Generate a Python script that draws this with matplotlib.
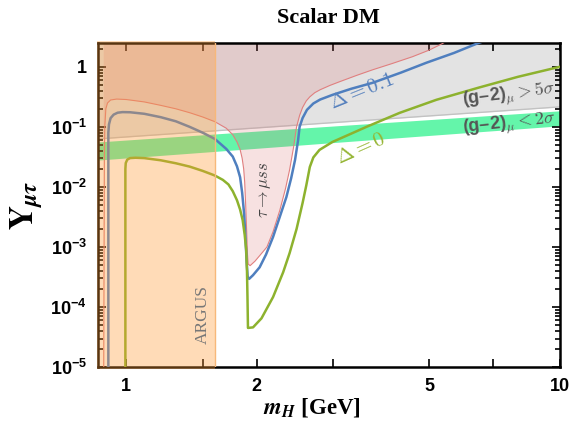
import numpy as np
import matplotlib.pyplot as plt
from matplotlib.patches import Rectangle

plt.rcParams['font.family'] = 'Liberation Sans'
plt.rcParams['mathtext.fontset'] = 'custom'
plt.rcParams['mathtext.rm'] = 'Liberation Sans:bold'
plt.rcParams['mathtext.it'] = 'Liberation Sans:bold:italic'
plt.rcParams['mathtext.bf'] = 'Liberation Sans:bold'

# tau -> mu s s exclusion boundary (red)
red_m = [0.887, 0.89, 0.892, 0.897, 0.905, 0.92, 0.95, 1.0, 1.1, 1.2, 1.3, 1.4, 1.5,
         1.6, 1.7, 1.76, 1.8, 1.83, 1.85, 1.865, 1.875, 1.885, 1.895, 1.902, 1.91,
         1.93, 1.98, 2.05, 2.11, 2.18, 2.26, 2.33, 2.38, 2.43, 2.47, 2.51, 2.55, 2.6,
         2.65, 2.72, 2.8, 2.95, 3.1, 3.4, 3.7, 4.1, 4.57, 5.0, 5.35, 5.6]
red_y = [1e-5, 0.03, 0.1, 0.2, 0.25, 0.28, 0.29, 0.285, 0.26, 0.228, 0.2, 0.172, 0.146,
         0.122, 0.095, 0.074, 0.056, 0.042, 0.03, 0.02, 0.012, 5e-3, 1.8e-3, 8e-4, 5.2e-4,
         4.9e-4, 5.8e-4, 7.8e-4, 1.0e-3, 1.8e-3, 4.1e-3, 9.5e-3, 0.0192, 0.045, 0.1,
         0.155, 0.21, 0.27, 0.316, 0.37, 0.415, 0.49, 0.562, 0.72, 0.891, 1.13, 1.47,
         1.9, 2.42, 2.9]

# Delta = 0.1 (blue)
blue_m = [0.909, 0.909, 0.912, 0.92, 0.935, 0.955, 0.98, 1.02, 1.1, 1.2, 1.3, 1.4, 1.5,
          1.6, 1.7, 1.76, 1.8, 1.83, 1.85, 1.87, 1.885, 1.895, 1.905, 1.92, 1.96, 2.03,
          2.1, 2.18, 2.26, 2.34, 2.4, 2.45, 2.49, 2.51, 2.55, 2.61, 2.7, 2.8, 2.99, 3.3,
          3.7, 4.3, 4.92, 5.7, 6.51, 7.0]
blue_y = [1e-5, 0.08, 0.11, 0.14, 0.16, 0.172, 0.176, 0.175, 0.165, 0.145, 0.124, 0.1,
          0.08, 0.063, 0.043, 0.032, 0.022, 0.0145, 8e-3, 3.5e-3, 1.2e-3, 5.5e-4, 3.2e-4,
          2.95e-4, 3.4e-4, 4.6e-4, 7.5e-4, 1.47e-3, 3.2e-3, 6.8e-3, 0.014, 0.0282, 0.06,
          0.1, 0.14, 0.192, 0.245, 0.285, 0.341, 0.43, 0.541, 0.8, 1.166, 1.7, 2.51, 3.0]

# Delta = 0 (green)
green_m = [0.995, 0.995, 0.997, 1.005, 1.02, 1.05, 1.1, 1.2, 1.3, 1.4, 1.5, 1.6, 1.67,
           1.72, 1.76, 1.8, 1.83, 1.855, 1.875, 1.89, 1.898, 1.903, 1.908, 1.96, 2.05,
           2.18, 2.3, 2.38, 2.47, 2.55, 2.6, 2.65, 2.7, 2.79, 2.99, 3.3, 3.58, 4.27, 5.19,
           6.5, 8.0, 10.0]
green_y = [1e-5, 0.02, 0.025, 0.0285, 0.0302, 0.0306, 0.0302, 0.0278, 0.0248, 0.0218,
           0.0185, 0.0155, 0.0131, 0.011, 0.0085, 0.006, 0.0042, 2.8e-3, 1.6e-3, 9e-4,
           4e-4, 1.5e-4, 4.5e-5, 4.6e-5, 6.5e-5, 1.47e-4, 3.8e-4, 7.9e-4, 2e-3, 5.4e-3,
           0.0105, 0.0215, 0.031, 0.0414, 0.0562, 0.077, 0.1, 0.171, 0.282, 0.45, 0.68,
           1.0]

# (g-2)_mu bands
g2_m = [0.86, 2, 5, 10]
g2_lo = [0.028, 0.044, 0.072, 0.104]
g2_hi = [0.056, 0.085, 0.132, 0.185]
g2_5s = [0.063, 0.096, 0.152, 0.215]

argus_max = 1.6
xmin, xmax = 0.86, 10
ymin, ymax = 1e-5, 2.5

fig = plt.figure(figsize=(5.76, 4.33), dpi=100)
ax = fig.add_axes([0.170, 0.152, 0.802, 0.749])
ax.set_xscale('log')
ax.set_yscale('log')

# grey (g-2) > 5 sigma region
ax.fill_between(g2_m, g2_5s, ymax * 2, color='#e3e3e3', lw=0, zorder=1)
ax.plot(g2_m, g2_5s, color='#c2c2c2', lw=1, zorder=1.2)
# green (g-2) < 2 sigma band
ax.fill_between(g2_m, g2_lo, g2_hi, color='#64f5aa', lw=0, zorder=1.5)

# pink tau -> mu s s region
px = red_m + [red_m[-1], red_m[0]]
py = red_y + [ymax * 2, ymax * 2]
ax.fill(px, py, color='#d96b6b', alpha=0.2, lw=0, zorder=2)
ax.plot(red_m, red_y, color='#e07f7f', lw=0.8, zorder=3)

ax.plot(blue_m, blue_y, color='#4f7fbf', lw=1.8, zorder=3)
ax.plot(green_m, green_y, color='#8db22e', lw=1.8, zorder=3)

# ARGUS band on top of everything, also over the frame
argus = Rectangle((0.855, -0.006), argus_max - 0.855, 1.012,
                  transform=ax.get_xaxis_transform(), clip_on=False,
                  facecolor='#ff9933', alpha=0.35, edgecolor='none', zorder=4)
ax.add_patch(argus)
ax.plot([argus_max, argus_max], [ymin, ymax], color='#f7b87a', lw=1, zorder=4.1)

ax.set_xlim(xmin, xmax)
ax.set_ylim(ymin, ymax)

# ticks
ax.set_xticks([1, 1.5, 2, 3, 5, 7, 10])
ax.set_xticklabels(['1', '', '2', '', '5', '', '10'])
ax.set_xticks([], minor=True)
yt = [1e-5, 1e-4, 1e-3, 1e-2, 1e-1, 1]
ax.set_yticks(yt)
ax.set_yticklabels([r'$10^{-5}$', r'$10^{-4}$', r'$10^{-3}$', r'$10^{-2}$',
                    r'$10^{-1}$', '1'])
ax.set_yticks([d * k for d in [1e-5, 1e-4, 1e-3, 1e-2, 1e-1, 1] for k in range(2, 10)
               if d * k < ymax], minor=True)
ax.tick_params(which='both', direction='in', top=True, right=True, width=1.2,
               labelsize=13)
ax.tick_params(which='major', length=6, pad=8)
ax.tick_params(which='minor', length=3.5)
for lab in ax.get_xticklabels() + ax.get_yticklabels():
    lab.set_fontweight('bold')
for s in ax.spines.values():
    s.set_linewidth(1.8)

# labels
ax.set_title('Scalar DM', fontfamily='Liberation Serif', fontweight='bold',
             fontsize=16, pad=14)
ax.set_xlabel(r'$\mathbfit{m}_{\mathbfit{H}}$ [GeV]', fontfamily='Liberation Serif',
              fontweight='bold', fontsize=16.5, math_fontfamily='stix', labelpad=3)
ax.xaxis.set_label_coords(0.463, -0.09)
ax.set_ylabel(r'$\mathbf{Y}_{\mathbfit{\mu\tau}}$', fontfamily='Liberation Serif',
              fontsize=24, math_fontfamily='stix', labelpad=4)

ax.text(3.49, 0.383, r'$\Delta = 0.1$', color='#5580bd', fontsize=15, rotation=22,
        ha='center', va='center', math_fontfamily='cm', zorder=5)
ax.text(3.47, 0.043, r'$\Delta = 0$', color='#95b534', fontsize=15, rotation=24,
        ha='center', va='center', math_fontfamily='cm', zorder=5)
ax.text(7.64, 0.329, r'(g–2)$_\mu > 5\sigma$', color='#555555', fontsize=13,
        fontweight='bold', rotation=7, ha='center', va='center', math_fontfamily='cm',
        zorder=5)
ax.text(7.64, 0.108, r'(g–2)$_\mu < 2\sigma$', color='#555555', fontsize=13,
        fontweight='bold', rotation=6, ha='center', va='center', math_fontfamily='cm',
        zorder=5)
ax.text(2.09, 8.9e-3, r'$\tau \to \mu s s$', color='#444444', fontsize=12, rotation=90,
        ha='center', va='center', math_fontfamily='cm', zorder=5)
ax.text(1.503, 7.6e-5, 'ARGUS', color='#777777', fontsize=12.5, rotation=90,
        ha='center', va='center', fontfamily='Liberation Serif', zorder=5)

fig.savefig('out.png', dpi=100)
